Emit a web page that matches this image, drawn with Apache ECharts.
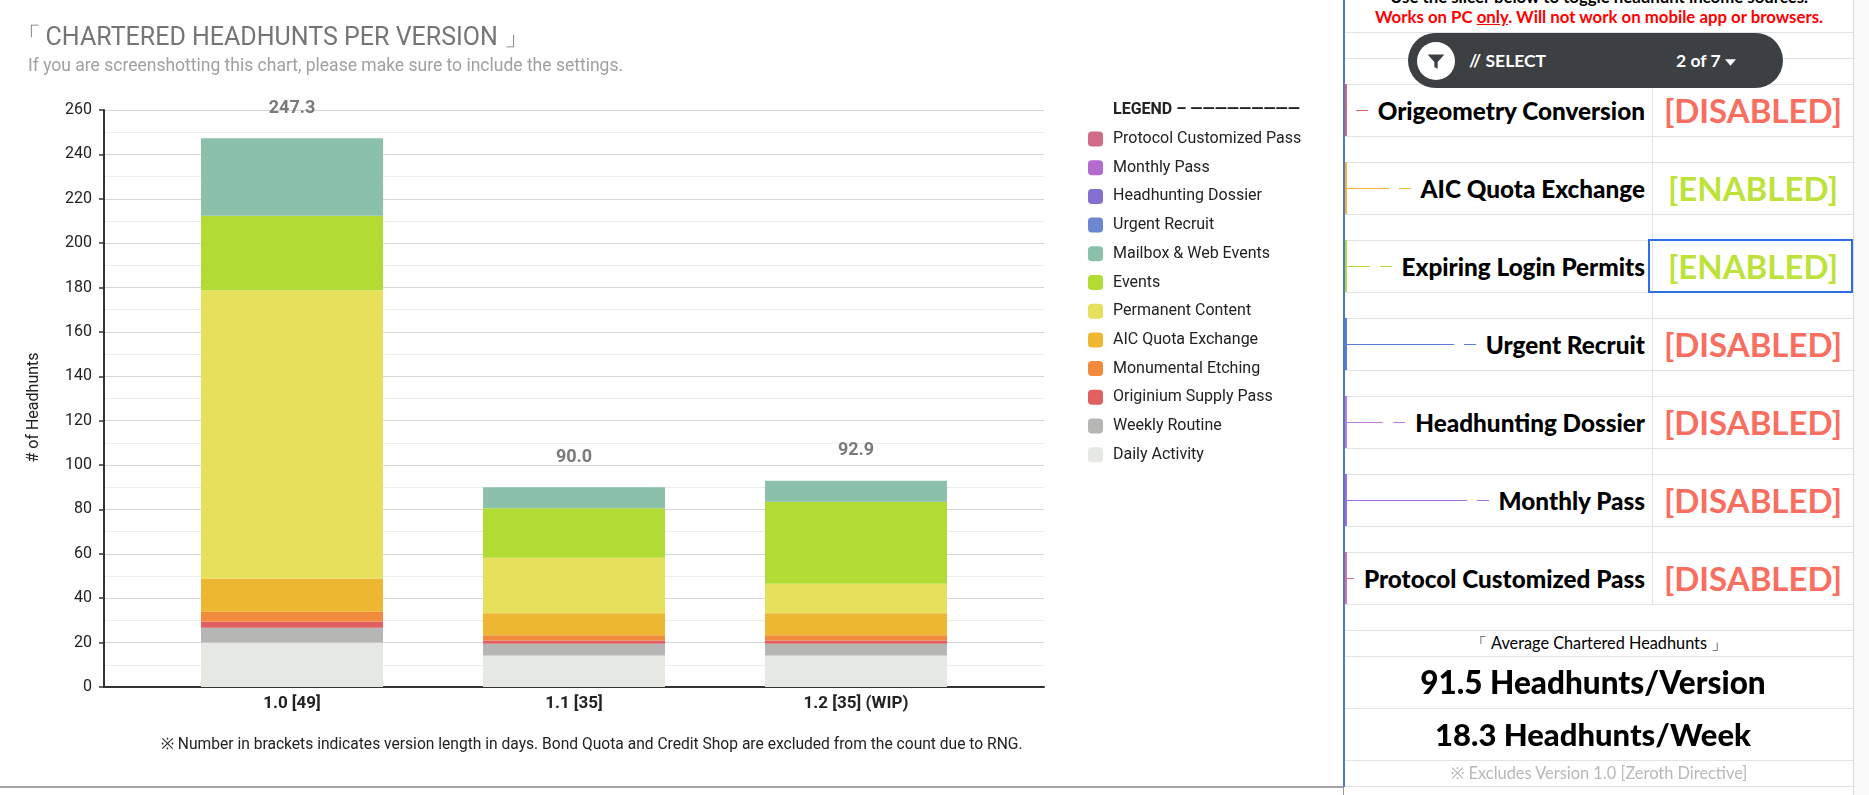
<!DOCTYPE html>
<html>
<head>
<meta charset="utf-8">
<title>Chartered Headhunts per Version</title>
<script src="https://cdn.jsdelivr.net/npm/echarts@6/dist/echarts.min.js"></script>
<style>
  html, body { margin: 0; padding: 0; background: #fff; }
  body { width: 1869px; height: 795px; position: relative; overflow: hidden; }
  #chart { position: absolute; left: 0; top: 0; width: 1343px; height: 787px; }
  #bottomLine { position: absolute; left: 0; top: 786px; width: 1343px; height: 2px; background: #a3a3a3; }
  #panel { position: absolute; left: 1343px; top: 0; width: 526px; height: 795px; font-family: Lato, 'Noto Sans', sans-serif; color: #000; }
  #panel .blue { position: absolute; left: 0; top: 0; width: 2px; height: 787px; background: #4d79d3; }
  #panel .under { position: absolute; left: 0; top: 787px; width: 1px; height: 8px; background: #999; }
  #panel .strip { position: absolute; left: 510px; top: 0; width: 16px; height: 795px; background: #f9f9f9; border-left: 1px solid #dcdcdc; }
  #panel .hl { position: absolute; left: 2px; width: 508px; height: 1px; background: #e2e2e2; }
  #panel .vl { position: absolute; left: 309px; width: 1px; background: #e2e2e2; }
  #panel .note { position: absolute; left: 2px; width: 508px; text-align: center; font-weight: 700; font-size: 16.8px; line-height: 22px; white-space: nowrap; }
  #panel .red { color: #ff0000; }
  #pill { position: absolute; left: 65px; top: 33px; width: 375px; height: 55px; border-radius: 28px; background: #3c4043; color: #fff; font-weight: 700; font-size: 17.5px; }
  #pill .circle { position: absolute; left: 9px; top: 9px; width: 38px; height: 38px; border-radius: 50%; background: #fff; }
  #pill .circle svg { position: absolute; left: 9px; top: 10px; }
  #pill .sel { position: absolute; left: 61px; top: 0; line-height: 55px; }
  #pill .cnt { position: absolute; left: 268px; top: 0; line-height: 55px; }
  #panel .name { position: absolute; left: 2px; width: 298px; height: 52px; padding-right: 9px; display: flex; align-items: center; justify-content: flex-end; font-weight: 900; font-size: 24.3px; white-space: nowrap; border-left: 2px solid; box-sizing: content-box; overflow: hidden; }
  #panel .name .ln { flex: 1 1 0; min-width: 0; height: 1px; }
  #panel .name .dash { flex: 0 0 12px; height: 1px; margin: 0 10px 0 10px; }
  #panel .name .txt { flex: 0 0 auto; }
  #panel .status { position: absolute; left: 310px; width: 200px; height: 52px; line-height: 52px; text-align: center; font-weight: 700; font-size: 33px; }
  #panel .on { color: #bde33b; }
  #panel .off { color: #f96e5f; }
  #panel .pick { position: absolute; left: 305px; width: 201px; height: 50px; border: 2px solid #2f6ee0; }
  #panel .big { position: absolute; left: 2px; width: 508px; text-align: center; white-space: nowrap; }
</style>
</head>
<body>
<div id="chart"></div>
<div id="bottomLine"></div>
<div id="panel"></div>
<script>
  // versions on the x axis
  const versions = ['1.0 [49]', '1.1 [35]', '1.2 [35] (WIP)'];

  // headhunts per source, bottom of the stack first
  const dailyActivity = [20.1, 14.2, 14.2];
  const weeklyRoutine = [6.6, 5.3, 5.3];
  const originiumSupplyPass = [2.7, 1.5, 1.5];
  const monumentalEtching = [4.5, 2.3, 2.3];
  const aicQuotaExchange = [15.0, 9.9, 9.9];
  const permanentContent = [129.9, 25.0, 13.3];
  const events = [33.6, 22.4, 37.0];
  const mailboxWebEvents = [34.9, 9.4, 9.4];
  const urgentRecruit = [0, 0, 0];
  const headhuntingDossier = [0, 0, 0];
  const monthlyPass = [0, 0, 0];
  const protocolCustomizedPass = [0, 0, 0];

  const seriesNames = ['Daily Activity', 'Weekly Routine', 'Originium Supply Pass', 'Monumental Etching',
    'AIC Quota Exchange', 'Permanent Content', 'Events', 'Mailbox & Web Events',
    'Urgent Recruit', 'Headhunting Dossier', 'Monthly Pass', 'Protocol Customized Pass'];
  const seriesValues = [dailyActivity, weeklyRoutine, originiumSupplyPass, monumentalEtching,
    aicQuotaExchange, permanentContent, events, mailboxWebEvents,
    urgentRecruit, headhuntingDossier, monthlyPass, protocolCustomizedPass];
  const seriesColors = ['#e6e8e3', '#b6b6b4', '#e06062', '#f28a3e', '#edb731', '#e6e05c',
    '#b2dc34', '#8bc1aa', '#6c86d0', '#8470d0', '#b46bd0', '#d06b88'];

  // slicer panel
  const toggleNames = ['Origeometry Conversion', 'AIC Quota Exchange', 'Expiring Login Permits',
    'Urgent Recruit', 'Headhunting Dossier', 'Monthly Pass', 'Protocol Customized Pass'];
  const toggleStates = [false, true, true, false, false, false, false];
  const toggleColors = ['#e06666', '#f1b82e', '#b5dd3a', '#5b7bd5', '#c07ad8', '#a96ad8', '#e07090'];

  // the sheet chart leaves wide margins: the three versions sit on slots 2, 5, 8 of an 11-slot axis
  const SLOT_COUNT = 11;
  const versionSlots = [2, 5, 8];
  function toSlots(arr) {
    return Array.from({ length: SLOT_COUNT }, (_, k) => {
      const i = versionSlots.indexOf(k);
      return i >= 0 ? arr[i] : null;
    });
  }

  const totals = versions.map((_, i) => seriesValues.reduce((s, arr) => s + arr[i], 0));

  const chart = echarts.init(document.getElementById('chart'));

  const series = seriesNames.map((name, k) => ({
    name: name,
    type: 'bar',
    stack: 'total',
    barWidth: 182,
    itemStyle: { color: seriesColors[k] },
    emphasis: { disabled: true },
    data: toSlots(seriesValues[k])
  }));
  series.push({
    name: 'Total',
    type: 'bar',
    stack: 'total',
    barWidth: 182,
    silent: true,
    itemStyle: { color: 'transparent' },
    label: {
      show: true, position: 'top', distance: 21,
      formatter: p => totals[versionSlots.indexOf(p.dataIndex)].toFixed(1),
      fontFamily: 'Roboto', fontSize: 18, fontWeight: 'bold', color: '#7a7a7a'
    },
    data: toSlots(versions.map(() => 0))
  });

  chart.setOption({
    animation: false,
    textStyle: { fontFamily: 'Roboto' },
    title: [
      { text: '{b|「}CHARTERED HEADHUNTS PER VERSION 」', left: 15.6, top: 26, padding: 0,
        textStyle: { fontFamily: 'Roboto', fontSize: 25, fontWeight: 'normal', color: '#757575',
          rich: { b: { fontSize: 25, color: '#757575', padding: [0, 5, 0, 0] } } } },
      { text: 'If you are screenshotting this chart, please make sure to include the settings.', left: 28, top: 57.5, padding: 0,
        textStyle: { fontFamily: 'Roboto', fontSize: 17.5, fontWeight: 'normal', color: '#a0a0a0' } },
      { text: 'LEGEND – —————————', left: 1113, top: 102, padding: 0,
        textStyle: { fontFamily: 'Roboto', fontSize: 16, fontWeight: 'bold', color: '#222' } },
      { text: '※ Number in brackets indicates version length in days. Bond Quota and Credit Shop are excluded from the count due to RNG.',
        left: 161, top: 737, padding: 0,
        textStyle: { fontFamily: 'Roboto', fontSize: 15.6, fontWeight: 'normal', color: '#222' } }
    ],
    legend: {
      orient: 'vertical', left: 1088, top: 131, padding: 0,
      itemWidth: 15, itemHeight: 15, itemGap: 12.7, icon: 'roundRect',
      selectedMode: false,
      data: seriesNames.slice().reverse(),
      textStyle: { fontFamily: 'Roboto', fontSize: 16, color: '#222', padding: [0, 0, 0, 5] }
    },
    grid: { left: 104, top: 110, width: 940, height: 577 },
    xAxis: {
      type: 'category',
      boundaryGap: false,
      data: toSlots(versions).map(v => v || ''),
      splitLine: { show: false },
      axisTick: { show: false },
      axisLine: { show: true, lineStyle: { color: '#333', width: 2 } },
      axisLabel: {
        interval: 0,
        fontFamily: 'Roboto', fontSize: 17, fontWeight: 'bold', color: '#222', margin: 8
      }
    },
    yAxis: {
      type: 'value',
      min: 0,
      max: 260,
      interval: 20,
      name: '# of Headhunts',
      nameLocation: 'middle',
      nameGap: 62,
      nameTextStyle: { fontFamily: 'Roboto', fontSize: 16, color: '#222', padding: [0, 18, 0, 0] },
      axisLine: { show: true, lineStyle: { color: '#333', width: 2 } },
      axisTick: { show: true, length: 5, lineStyle: { color: '#333', width: 1.5 } },
      axisLabel: { fontFamily: 'Roboto', fontSize: 16, color: '#222', margin: 12 },
      splitLine: { lineStyle: { color: '#d6d6d6', width: 1 } },
      minorTick: { show: false, splitNumber: 2 },
      minorSplitLine: { show: true, lineStyle: { color: '#ececec', width: 1 } }
    },
    series: series
  });

  // spreadsheet-style slicer panel on the right
  const panel = document.getElementById('panel');
  function add(html) { panel.insertAdjacentHTML('beforeend', html); }

  add('<div class="strip"></div>');
  add('<div class="note" style="top:-14px">Use the slicer below to toggle headhunt income sources.</div>');
  add('<div class="note red" style="top:6px">Works on PC <u>only</u>. Will not work on mobile app or browsers.</div>');

  const lineYs = [32, 58];
  toggleNames.forEach((_, i) => { lineYs.push(84 + i * 78, 136 + i * 78); });
  lineYs.push(630, 656, 708, 760, 786);
  lineYs.forEach(y => add('<div class="hl" style="top:' + y + 'px"></div>'));
  add('<div class="vl" style="top:84px;height:520px"></div>');

  add('<div id="pill"><div class="circle"><svg width="20" height="20" viewBox="0 0 24 24">' +
      '<path d="M2 3h20l-8 9v8l-4-2v-6z" fill="#3c4043"/></svg></div>' +
      '<span class="sel">// SELECT</span>' +
      '<span class="cnt">2 of 7 <svg width="11" height="7" viewBox="0 0 10 6" style="vertical-align:middle">' +
      '<path d="M0 0h10l-5 6z" fill="#fff"/></svg></span></div>');

  toggleNames.forEach((name, i) => {
    const top = 84 + i * 78;
    const c = toggleColors[i];
    add('<div class="name" style="top:' + top + 'px;border-left-color:' + c + '">' +
        '<span class="ln" style="background:' + c + '"></span>' +
        '<span class="dash" style="background:' + c + '"></span>' +
        '<span class="txt">' + name + '</span></div>');
    add('<div class="status ' + (toggleStates[i] ? 'on' : 'off') + '" style="top:' + top + 'px">' +
        (toggleStates[i] ? '[ENABLED]' : '[DISABLED]') + '</div>');
  });
  add('<div class="pick" style="top:239px"></div>');

  add('<div class="big" style="top:630px;line-height:26px;font-size:16.3px">「 Average Chartered Headhunts 」</div>');
  add('<div class="big" style="top:656px;left:-4px;line-height:52px;font-size:31.5px;font-weight:900">91.5 Headhunts/Version</div>');
  add('<div class="big" style="top:708px;left:-4px;line-height:52px;font-size:31px;font-weight:900">18.3 Headhunts/Week</div>');
  add('<div class="big" style="top:760px;line-height:26px;font-size:16.4px;color:#b8b8b8">※ Excludes Version 1.0 [Zeroth Directive]</div>');
  add('<div class="blue"></div><div class="under"></div>');

  window.addEventListener('resize', () => chart.resize());
</script>
</body>
</html>
